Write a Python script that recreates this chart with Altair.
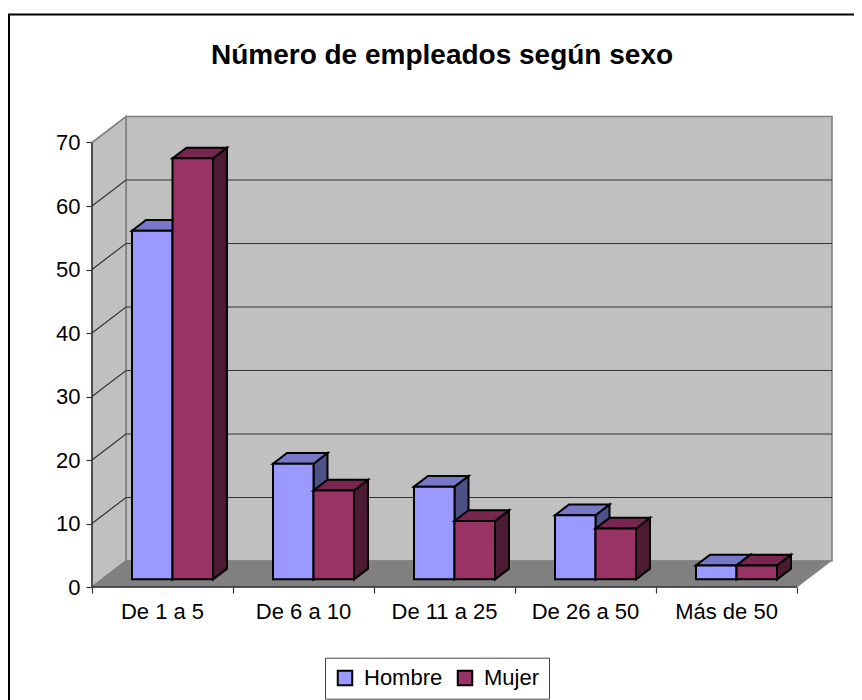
import altair as alt
import pandas as pd

categories = ["De 1 a 5", "De 6 a 10", "De 11 a 25", "De 26 a 50", "Más de 50"]
hombre = [54.9, 18.2, 14.6, 10.1, 2.2]
mujer = [66.3, 14.0, 9.2, 8.0, 2.2]
y_ticks = [0, 10, 20, 30, 40, 50, 60, 70]
x_ticks = [0, 1, 2, 3, 4, 5]
series = ["Hombre", "Mujer"]
FRONT = ["#9999FF", "#993366"]
TOP = ["#7878C8", "#78264F"]
SIDE = ["#4E5185", "#4C1B33"]
FONT = "Liberation Sans"

# scale set-up: one category = 141 px, ten units = 63.5 px
PW, PH = 740, 471
XMAX, YMAX = PW / 141, PH / 6.35
DX, DY = 34 / 141, 26 / 6.35          # depth of the whole floor
BAR_W = 40.5 / 141
BAR_OFF = 30 / 141                    # gap inside the category
D0, D1 = 10 / 34, 24 / 34             # front / back of the bars in the depth

xs = alt.Scale(domain=[0, XMAX], nice=False, zero=False)
ys = alt.Scale(domain=[0, YMAX], nice=False, zero=False)
x_axis = alt.Axis(values=x_ticks, labels=False, title=None, domain=False, grid=False, ticks=True,
                  tickSize=6, tickColor="#333333", tickWidth=1.2)
y_axis = alt.Axis(values=y_ticks, title=None, domain=False, grid=False, tickSize=6,
                  tickColor="#333333", tickWidth=1.2, labelFontSize=22, labelFont=FONT,
                  labelColor="black", labelPadding=6)
X = alt.X("x:Q", scale=xs, axis=x_axis)
Y = alt.Y("y:Q", scale=ys, axis=y_axis)
Y2 = alt.Y2("y2:Q")


def poly(rows):
    return pd.DataFrame(rows, columns=["id", "x", "y", "y2"])


def area(rows, fill, stroke, sw):
    return alt.Chart(poly(rows)).mark_area(
        fill=fill, stroke=stroke, strokeWidth=sw, interpolate="linear", clip=False
    ).encode(x=X, y=Y, y2=Y2, detail="id:N")


# walls and floor
back = alt.Chart(pd.DataFrame([{"x": DX, "x2": XMAX, "y": DY, "y2": 70 + DY}])).mark_rect(
    fill="#C0C0C0", stroke="#808080", strokeWidth=1.6
).encode(x=X, x2="x2:Q", y=Y, y2="y2:Q")
left = area([("w", 0, 0, 70), ("w", DX, DY, 70 + DY)], "#C0C0C0", "#808080", 1.6)
floor = area(
    [("f", 0, 0, 0), ("f", DX, 0, DY), ("f", 5, 0, DY), ("f", 5 + DX, DY, DY)],
    "#808080", "#808080", 1,
)

# gridlines
grid_rows = []
for v in y_ticks[1:-1]:
    grid_rows += [(v, 0, v), (v, DX, v + DY), (v, XMAX, v + DY)]
grid = alt.Chart(pd.DataFrame(grid_rows, columns=["id", "x", "y"])).mark_line(
    color="#333333", strokeWidth=1.2
).encode(x=X, y=Y, detail="id:N")

# front axis lines
axis_lines = alt.Chart(pd.DataFrame([
    {"id": "a", "x": 0, "y": 70}, {"id": "a", "x": 0, "y": 0}, {"id": "a", "x": 5, "y": 0},
])).mark_line(color="#333333", strokeWidth=1.4).encode(x=X, y=Y, detail="id:N")

# 3-D bars
d0x, d0y = D0 * DX, D0 * DY
ddx, ddy = (D1 - D0) * DX, (D1 - D0) * DY
bar_layers = []
for s, (name, vals) in enumerate(zip(series, [hombre, mujer])):
    side_rows, top_rows, front_rows = [], [], []
    for i, v in enumerate(vals):
        x0 = i + BAR_OFF + d0x + s * BAR_W
        x1 = x0 + BAR_W
        yb = d0y
        yt = d0y + v
        side_rows += [(i, x1, yt, yb), (i, x1 + ddx, yt + ddy, yb + ddy)]
        top_rows += [
            (i, x0, yt, yt),
            (i, x0 + ddx, yt + ddy, yt),
            (i, x1, yt + ddy, yt),
            (i, x1 + ddx, yt + ddy, yt + ddy),
        ]
        front_rows.append({"x": x0, "x2": x1, "y": yb, "y2": yt, "serie": name})
    bar_layers.append(area(side_rows, SIDE[s], "black", 2))
    bar_layers.append(area(top_rows, TOP[s], "black", 2))
    bar_layers.append(
        alt.Chart(pd.DataFrame(front_rows)).mark_rect(stroke="black", strokeWidth=2).encode(
            x=X, x2="x2:Q", y=Y, y2="y2:Q",
            fill=alt.Fill(
                "serie:N",
                scale=alt.Scale(domain=series, range=FRONT),
                legend=alt.Legend(
                    title=None, orient="none", legendX=233, legendY=541.7, columns=2,
                    direction="horizontal", symbolType="square", symbolSize=210,
                    symbolStrokeColor="black", symbolStrokeWidth=2, labelFontSize=22,
                    labelFont=FONT, labelColor="black", labelOffset=8, columnPadding=10,
                    strokeColor="#444444", fillColor="white", padding=9, labelLimit=120,
                ),
            ),
        )
    )

# category labels
cat_labels = alt.Chart(pd.DataFrame({
    "x": [i + 0.5 for i in range(len(categories))],
    "y": [0] * len(categories),
    "t": categories,
})).mark_text(fontSize=22, font=FONT, color="black", dy=25, align="center", baseline="middle").encode(
    x=X, y=Y, text="t:N"
)

# frame of the picture
frame_left = alt.Chart(pd.DataFrame({"a": [0]})).mark_rule(color="black", strokeWidth=2).encode(
    x=alt.value(-83), y=alt.value(-101.5), y2=alt.value(584)
)
frame_top = alt.Chart(pd.DataFrame({"a": [0]})).mark_rule(color="black", strokeWidth=2).encode(
    x=alt.value(-84), x2=alt.value(770), y=alt.value(-101.5)
)

chart = alt.layer(
    frame_left, frame_top, back, left, floor, grid, axis_lines, *bar_layers, cat_labels
).properties(
    width=PW, height=PH,
    title=alt.TitleParams(
        "Número de empleados según sexo", font=FONT, fontSize=28, fontWeight="bold", color="black",
        anchor="middle", dx=-20, offset=-56,
    ),
    autosize=alt.AutoSizeParams(type="none"),
    padding={"left": 84, "top": 108, "right": 22, "bottom": 113},
).configure_view(stroke=None)

chart.save("out.html", embed_options={"renderer": "svg", "actions": False})
